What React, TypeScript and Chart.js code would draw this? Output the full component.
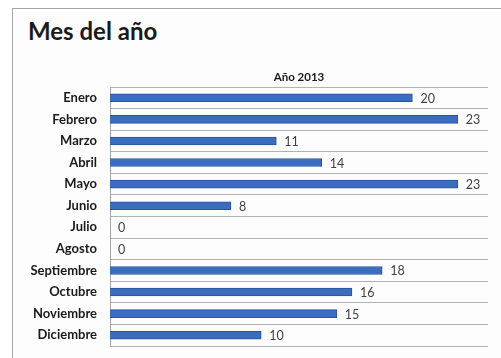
import React, { useEffect, useRef } from "react";
import { Chart, registerables } from "chart.js";

Chart.register(...registerables);

const chartTitle = "Mes del año";
const seriesName = "Año 2013";
const months = [
  "Enero", "Febrero", "Marzo", "Abril", "Mayo", "Junio",
  "Julio", "Agosto", "Septiembre", "Octubre", "Noviembre", "Diciembre",
];
const values = [20, 23, 11, 14, 23, 8, 0, 0, 18, 16, 15, 10];
const axisMax = 25;

const FONT = "Lato, 'Open Sans', sans-serif";

const labelsPlugin = {
  id: "labelsPlugin",
  afterDatasetsDraw(chart: any) {
    const ctx = chart.ctx;
    const meta = chart.getDatasetMeta(0);
    ctx.save();
    ctx.font = `12.5px ${FONT}`;
    ctx.fillStyle = "#404040";
    ctx.textAlign = "left";
    ctx.textBaseline = "middle";
    meta.data.forEach((el: any, i: number) => {
      ctx.fillText(String(values[i]), el.x + 8, el.y + 1);
    });
    const ca = chart.chartArea;
    ctx.font = `bold 11.5px ${FONT}`;
    ctx.fillStyle = "#1a1a1a";
    ctx.textAlign = "center";
    ctx.fillText(seriesName, (ca.left + ca.right) / 2, ca.top - 10);
    ctx.restore();
  },
};

export default function App() {
  const ref = useRef<HTMLCanvasElement>(null);
  useEffect(() => {
    if (!ref.current) return;
    const chart = new Chart(ref.current, {
      type: "bar",
      data: {
        labels: months,
        datasets: [
          {
            label: seriesName,
            data: values,
            backgroundColor: "#3a6cbf",
            borderColor: "#285396",
            borderWidth: { top: 1, bottom: 1, left: 0, right: 1 },
            borderSkipped: "left",
            barThickness: 8,
          },
        ],
      },
      options: {
        indexAxis: "y",
        animation: false,
        responsive: false,
        maintainAspectRatio: false,
        layout: { padding: { left: 0, top: 87, right: 13, bottom: 12 } },
        plugins: {
          legend: { display: false },
          tooltip: { enabled: false },
          title: { display: false },
        },
        scales: {
          x: {
            display: false,
            min: 0,
            max: axisMax,
          },
          y: {
            afterFit: (scale: any) => {
              scale.width = 110;
              scale.paddingTop = 0;
              scale.paddingBottom = 0;
            },
            grid: {
              display: true,
              offset: true,
              color: "#b3b3b3",
              lineWidth: 1,
              drawTicks: false,
            },
            border: { display: true, color: "#a6a6a6" },
            ticks: {
              padding: 13,
              color: "#1a1a1a",
              font: { family: FONT, size: 13, weight: "bold" },
            },
          },
        },
      },
      plugins: [labelsPlugin],
    });
    return () => chart.destroy();
  }, []);

  return (
    <div
      style={{
        position: "fixed",
        left: 0,
        top: 0,
        width: 501,
        height: 358,
        background: "#ffffff",
        overflow: "hidden",
      }}
    >
      <div
        style={{
          position: "absolute",
          left: 12,
          top: 8,
          width: 520,
          height: 380,
          borderLeft: "1px solid #a6a6a6",
          borderTop: "1px solid #a6a6a6",
          background: "#fdfdfd",
        }}
      />
      <div
        style={{
          position: "absolute",
          left: 28,
          top: 17,
          fontFamily: FONT,
          fontWeight: "bold",
          fontSize: 24,
          lineHeight: "28px",
          color: "#1a1a1a",
          whiteSpace: "nowrap",
        }}
      >
        {chartTitle}
      </div>
      <canvas
        ref={ref}
        width={501}
        height={358}
        style={{ position: "absolute", left: 0, top: 0, width: 501, height: 358 }}
      />
    </div>
  );
}
